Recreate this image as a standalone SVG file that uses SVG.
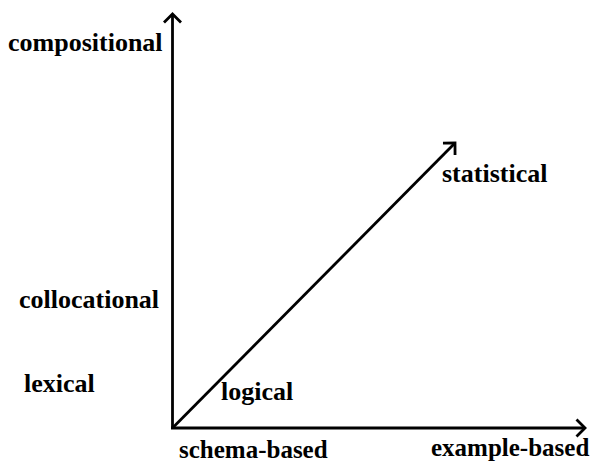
<svg xmlns="http://www.w3.org/2000/svg" width="592" height="464" viewBox="0 0 592 464">
<style>
.lbl{font-family:"Liberation Serif","Times New Roman",serif;font-weight:bold;font-size:26px;fill:#000}
.sm{font-size:25px}
.ax{stroke:#000;stroke-width:2.8;fill:none}
</style>
<defs>
<marker id="arr" markerUnits="userSpaceOnUse" markerWidth="20" markerHeight="20" viewBox="-12 -10 14 20" refX="0" refY="0" orient="auto">
<path d="M-8.5,-8.5 L0,0 L-8.5,8.5" fill="none" stroke="#000" stroke-width="2.8" stroke-linejoin="miter"/>
</marker>
</defs>
<g id="connectors">
<line class="ax" x1="172.5" y1="429" x2="172.5" y2="14" marker-end="url(#arr)"/>
<line class="ax" x1="171" y1="428" x2="585" y2="428" marker-end="url(#arr)"/>
<line class="ax" x1="172.5" y1="428" x2="455" y2="143" marker-end="url(#arr)"/>
</g>
<g id="compositional"><text class="lbl" x="8" y="51">compositional</text></g>
<g id="statistical"><text class="lbl" x="442" y="182">statistical</text></g>
<g id="collocational"><text class="lbl" x="19" y="308">collocational</text></g>
<g id="lexical"><text class="lbl" x="24" y="392">lexical</text></g>
<g id="logical"><text class="lbl" x="221" y="400">logical</text></g>
<g id="schema-based"><text class="lbl sm" x="179" y="458">schema-based</text></g>
<g id="example-based"><text class="lbl sm" x="431" y="456">example-based</text></g>
</svg>
